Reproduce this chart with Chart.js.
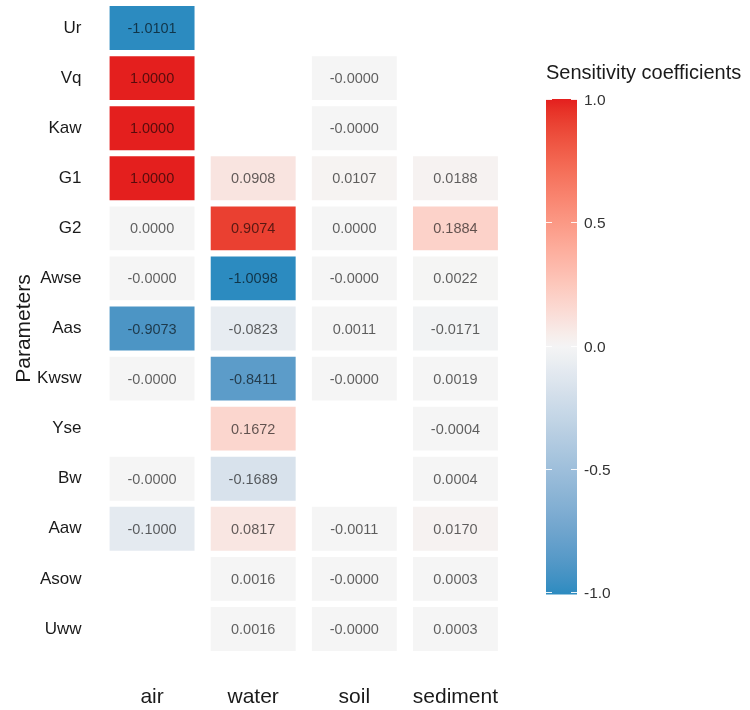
<!DOCTYPE html>
<html>
<head>
<meta charset="utf-8">
<script src="https://cdn.jsdelivr.net/npm/chart.js@4.4.1/dist/chart.umd.min.js"></script>
<style>
  body { margin: 0; background: #fff; }
  #wrap { width: 750px; height: 710px; }
</style>
</head>
<body>
<div id="wrap"><canvas id="heat"></canvas></div>
<script>
// rows (top to bottom) and columns
const params = ['Ur', 'Vq', 'Kaw', 'G1', 'G2', 'Awse', 'Aas', 'Kwsw', 'Yse', 'Bw', 'Aaw', 'Asow', 'Uww'];
const media = ['air', 'water', 'soil', 'sediment'];

// sensitivity coefficients per medium, null = no cell (-0 prints as -0.0000)
const airVals = [-1.0101, 1.0000, 1.0000, 1.0000, 0.0000, -0, -0.9073, -0, null, -0, -0.1000, null, null];
const waterVals = [null, null, null, 0.0908, 0.9074, -1.0098, -0.0823, -0.8411, 0.1672, -0.1689, 0.0817, 0.0016, 0.0016];
const soilVals = [null, -0, -0, 0.0107, 0.0000, -0, 0.0011, -0, null, null, -0.0011, -0, -0];
const sedimentVals = [null, null, null, 0.0188, 0.1884, 0.0022, -0.0171, 0.0019, -0.0004, 0.0004, 0.0170, 0.0003, 0.0003];

const colorbarTicks = [1.0, 0.5, 0.0, -0.5, -1.0];
const legendTitle = 'Sensitivity coefficients';

const columns = [airVals, waterVals, soilVals, sedimentVals];
const limLow = -1.0101, limHigh = 1.0;

// colour ramp: blue - whitesmoke - red, interpolated in Lab
function hexToRgb(h) {
    return [parseInt(h.slice(1, 3), 16), parseInt(h.slice(3, 5), 16), parseInt(h.slice(5, 7), 16)];
}
function rgbToLab(c) {
    let [r, g, b] = c.map(v => {
        v = v / 255;
        return v > 0.04045 ? Math.pow((v + 0.055) / 1.055, 2.4) : v / 12.92;
    });
    let x = (r * 0.4124 + g * 0.3576 + b * 0.1805) / 0.95047;
    let y = (r * 0.2126 + g * 0.7152 + b * 0.0722);
    let z = (r * 0.0193 + g * 0.1192 + b * 0.9505) / 1.08883;
    const f = t => t > 0.008856 ? Math.cbrt(t) : 7.787 * t + 16 / 116;
    x = f(x); y = f(y); z = f(z);
    return [116 * y - 16, 500 * (x - y), 200 * (y - z)];
}
function labToRgb(lab) {
    let y = (lab[0] + 16) / 116, x = lab[1] / 500 + y, z = y - lab[2] / 200;
    const fi = t => t * t * t > 0.008856 ? t * t * t : (t - 16 / 116) / 7.787;
    x = fi(x) * 0.95047; y = fi(y); z = fi(z) * 1.08883;
    let r = x * 3.2406 + y * -1.5372 + z * -0.4986;
    let g = x * -0.9689 + y * 1.8758 + z * 0.0415;
    let b = x * 0.0557 + y * -0.2040 + z * 1.0570;
    return [r, g, b].map(v => {
        v = v > 0.0031308 ? 1.055 * Math.pow(v, 1 / 2.4) - 0.055 : 12.92 * v;
        return Math.max(0, Math.min(255, Math.round(v * 255)));
    });
}
const lowLab = rgbToLab(hexToRgb('#2c8bc0'));
const midLab = rgbToLab(hexToRgb('#f5f5f5'));
const highLab = rgbToLab(hexToRgb('#e31a1c'));
const span = Math.max(Math.abs(limLow), Math.abs(limHigh));

function fillColor(v) {
    let t = Math.max(-1, Math.min(1, v / span));
    const end = t < 0 ? lowLab : highLab;
    const a = Math.abs(t);
    const lab = midLab.map((m, k) => m + (end[k] - m) * a);
    const c = labToRgb(lab);
    return 'rgb(' + c.join(',') + ')';
}

function fmt(v) {
    const neg = v < 0 || Object.is(v, -0);
    return (neg ? '-' : '') + Math.abs(v).toFixed(4);
}

const half = 0.438;
const datasets = params.map((p, i) => ({
    label: p,
    data: columns.map(col => col[i] === null ? null : [i - half, i + half]),
    values: columns.map(col => col[i]),
    backgroundColor: columns.map(col => col[i] === null ? 'rgba(0,0,0,0)' : fillColor(col[i])),
    borderWidth: 0,
    barPercentage: 0.84,
    categoryPercentage: 1.0,
    grouped: false
}));

const cellText = {
    id: 'cellText',
    afterDatasetsDraw(chart) {
        const ctx = chart.ctx;
        ctx.save();
        ctx.font = '14.5px "Liberation Sans", Arial, sans-serif';
        ctx.textAlign = 'center';
        ctx.textBaseline = 'middle';
        ctx.fillStyle = 'rgba(0,0,0,0.62)';
        chart.data.datasets.forEach((ds, di) => {
            const meta = chart.getDatasetMeta(di);
            meta.data.forEach((el, j) => {
                const v = ds.values[j];
                if (v === null || v === undefined) return;
                ctx.fillText(fmt(v), el.x, (el.y + el.base) / 2 + 1);
            });
        });
        ctx.restore();
    }
};

const colorbar = {
    id: 'colorbar',
    afterDraw(chart) {
        const ctx = chart.ctx;
        const x0 = 546, w = 31;
        const yTop = 99, yBot = 592; // positions of 1.0 and -1.0
        const yOf = v => yTop + (limHigh - v) / (limHigh - (-1)) * (yBot - yTop);
        const top = yOf(limHigh), bot = yOf(limLow);
        ctx.save();
        const grad = ctx.createLinearGradient(0, top, 0, bot);
        const steps = 40;
        for (let s = 0; s <= steps; s++) {
            const v = limHigh + (limLow - limHigh) * s / steps;
            grad.addColorStop(s / steps, fillColor(v));
        }
        ctx.fillStyle = grad;
        ctx.fillRect(x0, top, w, bot - top);

        ctx.strokeStyle = 'rgba(255,255,255,0.9)';
        ctx.lineWidth = 1;
        ctx.font = '15.5px "Liberation Sans", Arial, sans-serif';
        ctx.fillStyle = '#333333';
        ctx.textAlign = 'left';
        ctx.textBaseline = 'middle';
        colorbarTicks.forEach(v => {
            const y = Math.round(yOf(v)) + 0.5;
            ctx.beginPath();
            ctx.moveTo(x0, y); ctx.lineTo(x0 + 6, y);
            ctx.moveTo(x0 + w - 6, y); ctx.lineTo(x0 + w, y);
            ctx.stroke();
            ctx.fillText(v.toFixed(1), 584, y + 1);
        });

        ctx.font = '20px "Liberation Sans", Arial, sans-serif';
        ctx.fillStyle = '#1a1a1a';
        ctx.fillText(legendTitle, 546, 73);
        ctx.restore();
    }
};

new Chart(document.getElementById('heat').getContext('2d'), {
    type: 'bar',
    data: { labels: media, datasets: datasets },
    options: {
        responsive: true,
        maintainAspectRatio: false,
        animation: false,
        layout: { padding: { left: 0, right: 244, top: 3, bottom: 0 } },
        plugins: { legend: { display: false }, tooltip: { enabled: false } },
        scales: {
            x: {
                type: 'category',
                grid: { display: false, drawTicks: false },
                border: { display: false },
                ticks: {
                    color: '#1a1a1a',
                    padding: 31,
                    font: { family: '"Liberation Sans", Arial, sans-serif', size: 21 }
                },
                afterFit: s => { s.height = 56; s.paddingLeft = 0; s.paddingRight = 0; }
            },
            y: {
                type: 'linear',
                reverse: true,
                min: -0.5,
                max: 12.5,
                grid: { display: false, drawTicks: false },
                border: { display: false },
                afterBuildTicks: s => { s.ticks = params.map((p, i) => ({ value: i })); },
                ticks: {
                    color: '#1a1a1a',
                    padding: 20,
                    font: { family: '"Liberation Sans", Arial, sans-serif', size: 17 },
                    callback: v => params[v]
                },
                title: {
                    display: true,
                    text: 'Parameters',
                    color: '#1a1a1a',
                    padding: { top: 12, bottom: 0 },
                    font: { family: '"Liberation Sans", Arial, sans-serif', size: 21 }
                },
                afterFit: s => { s.width = 101.5; s.paddingTop = 0; s.paddingBottom = 0; }
            }
        }
    },
    plugins: [cellText, colorbar]
});
</script>
</body>
</html>
